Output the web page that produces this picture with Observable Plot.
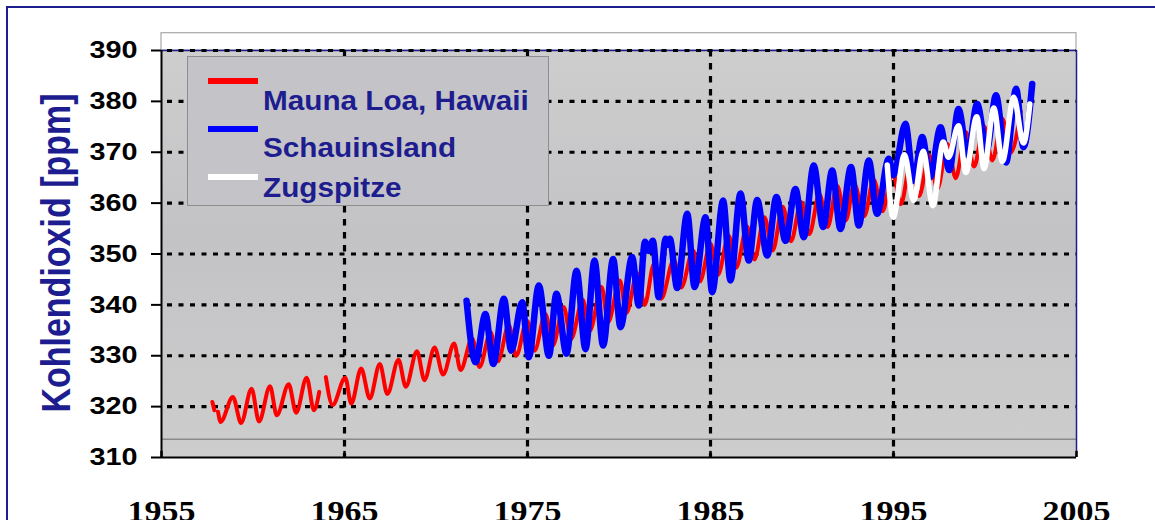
<!DOCTYPE html>
<html><head><meta charset="utf-8">
<script src="https://cdn.jsdelivr.net/npm/d3@7"></script>
<script src="https://cdn.jsdelivr.net/npm/@observablehq/plot@0.6"></script>
<style>
html,body{margin:0;padding:0;background:#fff;}
body{width:1155px;height:520px;overflow:hidden;position:relative;font-family:"Liberation Sans",Arial,sans-serif;}
#frame{position:absolute;left:6px;top:6px;width:1300px;height:700px;border-top:2px solid #1d1d8f;border-left:2px solid #1d1d8f;}
#chart{position:absolute;left:0;top:0;}
#ytitle{position:absolute;left:56px;top:253px;transform:translate(-50%,-50%) rotate(-90deg) scaleY(1.2);font-weight:bold;font-size:34px;line-height:34px;color:#1d1d8f;white-space:nowrap;}
#legend{position:absolute;left:187px;top:56px;width:362px;height:150px;background:#c4c3c8;border:1.5px solid #8e8e8e;box-sizing:border-box;}
.sw{position:absolute;left:20px;width:50px;height:6px;}
.lt{position:absolute;left:75px;font-size:27px;line-height:27px;font-weight:bold;color:#1d1d8f;white-space:nowrap;transform:scaleX(1.1);transform-origin:left center;}
</style>
</head><body>
<div id="frame"></div>
<div id="chart"></div>
<div id="ytitle">Kohlendioxid [ppm]</div>
<div id="legend"></div>
<script>
// ---- data ----
const xTicks = [1955, 1965, 1975, 1985, 1995, 2005];
const yTicks = [310, 320, 330, 340, 350, 360, 370, 380, 390];
const gridX = [1965, 1975, 1985, 1995];
const gridY = [320, 330, 340, 350, 360, 370, 380, 390];
const floorLine = [313.6];

const seriesNames = ["Mauna Loa, Hawaii", "Schauinsland", "Zugspitze"];
const seriesColors = ["#ff0000", "#0000ff", "#ffffff"];

const maunaYear = [1957.78,1957.89,1958.0,1958.09,1958.23,1958.90,1959.35,1959.92,1960.33,1960.93,1961.30,1961.95,1962.36,1962.93,1963.33,1963.62,1963.8,1963.98,1964.35,1965.04,1965.37,1965.91,1966.38,1966.93,1967.34,1967.95,1968.35,1968.96,1969.37,1969.92,1970.39,1970.99,1971.34,1971.98,1972.38,1972.98,1973.38,1973.98,1974.38,1974.98,1975.38,1975.98,1976.38,1976.98,1977.38,1978.02,1978.40,1979.05,1979.40,1980.05,1980.40,1981.00,1981.40,1981.92,1982.30,1983.00,1983.40,1984.05,1984.42,1985.00,1985.40,1986.00,1986.40,1987.00,1987.40,1987.95,1988.40,1988.95,1989.40,1989.95,1990.40,1990.95,1991.40,1991.92,1992.40,1992.85,1993.40,1993.92,1994.40,1994.95,1995.40,1995.95,1996.40,1996.95,1997.40,1997.95,1998.40,1998.95,1999.40,1999.95,2000.40,2000.95,2001.40,2001.95];
const maunaCO2 = [320.9,319.3,NaN,319.0,317.0,321.9,316.8,323.5,317.1,324.0,318.3,324.4,318.8,325.7,319.3,322.9,NaN,325.8,320.3,325.7,320.6,327.5,321.6,328.4,322.5,329.2,323.9,330.9,325.2,331.6,326.3,332.4,327.2,333.4,327.8,334.6,328.9,336.0,330.0,336.9,331.0,338.2,332.0,339.6,333.3,341.0,334.9,343.5,336.6,344.8,338.4,346.2,340.0,348.1,341.2,348.8,343.4,350.7,344.6,352.0,345.9,353.6,347.3,355.4,348.9,357.2,350.7,359.3,352.5,360.2,353.9,361.8,355.3,363.4,356.6,363.8,357.4,364.6,358.4,366.3,359.8,368.0,361.4,369.4,362.8,371.6,364.9,374.0,367.2,375.1,368.4,376.6,369.9,378.0];

const schauYear = [1971.67,1972.16,1972.70,1973.13,1973.71,1974.11,1974.71,1975.07,1975.62,1976.17,1976.58,1977.13,1977.68,1978.17,1978.66,1979.13,1979.68,1980.08,1980.72,1981.08,1981.42,1981.62,1981.85,1982.17,1982.55,1982.66,1982.78,1983.18,1983.73,1984.13,1984.73,1985.09,1985.69,1986.09,1986.64,1987.09,1987.55,1988.10,1988.60,1989.10,1989.64,1990.10,1990.64,1991.16,1991.65,1992.10,1992.68,1993.10,1993.65,1994.10,1994.74,1995.00,1995.65,1996.10,1996.57,1997.00,1997.57,1998.05,1998.55,1999.05,1999.57,2000.10,2000.60,2001.15,2001.70,2002.10,2002.58];
const schauCO2 = [340.8,328.7,338.2,328.4,341.2,331.0,340.5,329.7,343.8,330.0,342.2,330.4,346.7,331.3,348.7,332.0,349.0,335.6,349.4,339.9,352.4,350.6,352.6,341.5,353.0,351.8,353.0,343.3,357.9,343.5,357.2,342.5,360.5,344.8,361.9,348.7,360.6,349.7,361.2,352.6,362.8,353.3,367.4,355.3,366.4,354.9,367.1,355.6,368.4,357.9,368.7,365.5,375.6,364.4,373.0,365.1,374.9,366.5,378.5,369.5,379.5,370.5,381.2,368.0,382.5,371.0,383.4];

const zugYear = [1994.66,1994.98,1995.60,1996.10,1996.62,1997.15,1997.72,1998.00,1998.55,1998.95,1999.55,1999.95,2000.48,2000.95,2001.57,2002.10,2002.45];
const zugCO2 = [367.5,357.2,369.5,360.5,370.2,359.5,372.0,369.0,375.2,366.0,377.0,366.8,378.7,368.2,380.8,371.8,379.5];

// ---- tables built from arrays ----
const toRows = (xs, ys) => xs.map((x, i) => ({year: x, co2: ys[i]}));
const mauna = toRows(maunaYear, maunaCO2);
const schau = toRows(schauYear, schauCO2);
const zug = toRows(zugYear, zugCO2);

const navy = "#1d1d8f";
const xMin = xTicks[0], xMax = xTicks[xTicks.length - 1];
const yMin = yTicks[0], yMax = yTicks[yTicks.length - 1];

const svg = Plot.plot({
  width: 1155, height: 520,
  marginLeft: 161, marginRight: 79, marginTop: 50, marginBottom: 63,
  x: {domain: [xMin, xMax]},
  y: {domain: [yMin, yMax]},
  style: {background: "transparent", overflow: "visible", fontFamily: "Liberation Sans, Arial, sans-serif"},
  marks: [
    Plot.frame({fill: "url(#plotbg)"}),
    Plot.rect([0], {x1: xMin, x2: xMax, y1: yMax, y2: yMax + 3.4, fill: "white", stroke: "#a8a8a8", strokeWidth: 1.2}),
    Plot.ruleY(floorLine, {stroke: "#8a8a8a", strokeWidth: 1.5}),
    Plot.ruleY([yMax], {stroke: navy, strokeWidth: 1.5}),
    Plot.ruleX([xMax], {stroke: navy, strokeWidth: 1.5}),
    Plot.ruleY(gridY, {x1: xMin, x2: xMax, stroke: "black", strokeWidth: 3.2, strokeDasharray: "5,6.5", strokeDashoffset: -6}),
    Plot.ruleX(gridX, {stroke: "black", strokeWidth: 3.2, strokeDasharray: "6.5,6.5"}),
    Plot.line(mauna, {x: "year", y: "co2", stroke: seriesColors[0], strokeWidth: 4, curve: "monotone-x"}),
    Plot.line(schau, {x: "year", y: "co2", stroke: seriesColors[1], strokeWidth: 6.5, curve: "monotone-x"}),
    Plot.line(zug, {x: "year", y: "co2", stroke: seriesColors[2], strokeWidth: 5.5, curve: "monotone-x"}),
    Plot.ruleX([xMin], {stroke: "black", strokeWidth: 2}),
    Plot.ruleY([yMin], {stroke: "black", strokeWidth: 2}),
    Plot.ruleX(xTicks, {y1: yMin, y2: yMin + 1.2, stroke: "black", strokeWidth: 2.5}),
    Plot.axisY(yTicks, {tickSize: 10, tickPadding: 14, strokeWidth: 2, fontSize: 24, fontWeight: "bold", fill: "black", label: null}),
    Plot.axisX(xTicks, {tickSize: 0, tickPadding: 43, fontSize: 29, fontWeight: "bold", fontFamily: "Liberation Serif, Times New Roman, serif", fill: "black", label: null, tickFormat: d => String(d)})
  ]
});

d3.select(svg).insert("defs", ":first-child").html(
  '<linearGradient id="plotbg" x1="0" y1="0" x2="0" y2="1">' +
  '<stop offset="0" stop-color="#cecece"/><stop offset="0.45" stop-color="#c3c3c6"/><stop offset="1" stop-color="#cdcdcd"/>' +
  '</linearGradient>');

function stretch(sel, s) {
  svg.querySelectorAll(sel).forEach(t => {
    const tr = t.getAttribute("transform");
    if (tr) t.setAttribute("transform", tr + ` scale(${s},1)`);
    else {
      const x = +t.getAttribute("x") || 0, y = +t.getAttribute("y") || 0;
      t.removeAttribute("x"); t.removeAttribute("y");
      t.setAttribute("transform", `translate(${x},${y}) scale(${s},1)`);
    }
  });
}
stretch('g[aria-label="y-axis tick label"] text', 1.2);
stretch('g[aria-label="x-axis tick label"] text', 1.17);

document.getElementById("chart").appendChild(svg);

// legend (HTML overlay inside the plot area, as in the original)
const legend = document.getElementById("legend");
const swTops = [21, 69, 117];
const txtTops = [30.5, 78, 118];
seriesNames.forEach((name, i) => {
  const sw = document.createElement("div");
  sw.className = "sw"; sw.style.top = swTops[i] + "px"; sw.style.background = seriesColors[i];
  legend.appendChild(sw);
  const t = document.createElement("div");
  t.className = "lt"; t.style.top = txtTops[i] + "px"; t.textContent = name;
  legend.appendChild(t);
});
</script>
</body></html>
